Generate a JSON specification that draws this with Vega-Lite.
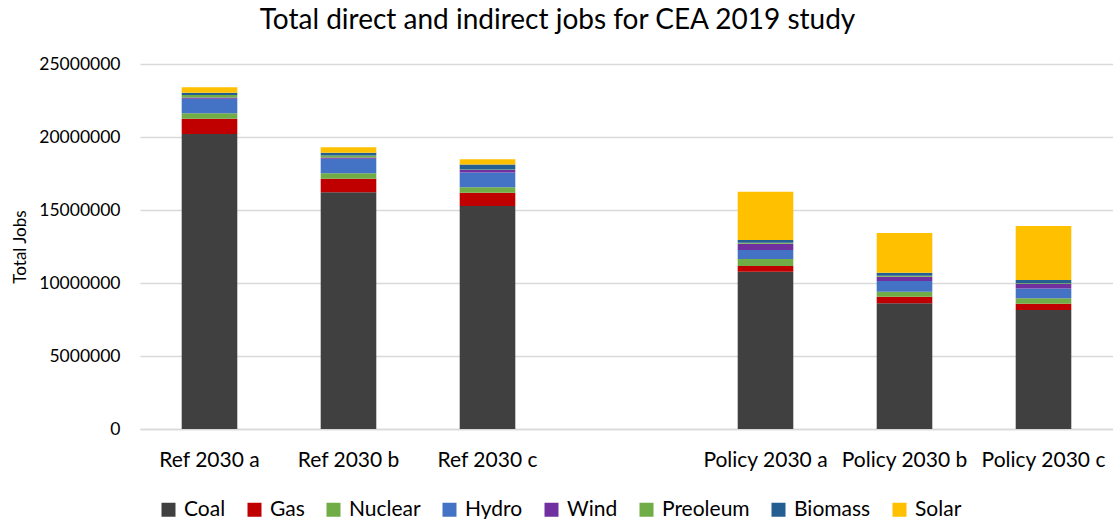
{
  "$schema": "https://vega.github.io/schema/vega-lite/v6.json",
  "width": 973,
  "height": 365,
  "autosize": {"type": "none"},
  "padding": {"left": 140, "top": 64, "right": 0, "bottom": 90},
  "background": "white",
  "title": {
    "text": "Total direct and indirect jobs for CEA 2019 study",
    "font": "Lato",
    "fontSize": 28,
    "fontWeight": "normal",
    "color": "#000000",
    "anchor": "middle",
    "dx": -69,
    "offset": 20
  },
  "config": {
    "view": {"stroke": null},
    "font": "Lato"
  },
  "data": {
    "values": [
      {"scenario": "Ref 2030 a", "source": "Coal", "jobs": 20200000},
      {"scenario": "Ref 2030 a", "source": "Gas", "jobs": 1050000},
      {"scenario": "Ref 2030 a", "source": "Nuclear", "jobs": 370000},
      {"scenario": "Ref 2030 a", "source": "Hydro", "jobs": 1000000},
      {"scenario": "Ref 2030 a", "source": "Wind", "jobs": 90000},
      {"scenario": "Ref 2030 a", "source": "Preoleum", "jobs": 170000},
      {"scenario": "Ref 2030 a", "source": "Biomass", "jobs": 150000},
      {"scenario": "Ref 2030 a", "source": "Solar", "jobs": 370000},
      {"scenario": "Ref 2030 b", "source": "Coal", "jobs": 16210000},
      {"scenario": "Ref 2030 b", "source": "Gas", "jobs": 930000},
      {"scenario": "Ref 2030 b", "source": "Nuclear", "jobs": 370000},
      {"scenario": "Ref 2030 b", "source": "Hydro", "jobs": 1000000},
      {"scenario": "Ref 2030 b", "source": "Wind", "jobs": 90000},
      {"scenario": "Ref 2030 b", "source": "Preoleum", "jobs": 140000},
      {"scenario": "Ref 2030 b", "source": "Biomass", "jobs": 180000},
      {"scenario": "Ref 2030 b", "source": "Solar", "jobs": 370000},
      {"scenario": "Ref 2030 c", "source": "Coal", "jobs": 15270000},
      {"scenario": "Ref 2030 c", "source": "Gas", "jobs": 910000},
      {"scenario": "Ref 2030 c", "source": "Nuclear", "jobs": 370000},
      {"scenario": "Ref 2030 c", "source": "Hydro", "jobs": 1010000},
      {"scenario": "Ref 2030 c", "source": "Wind", "jobs": 180000},
      {"scenario": "Ref 2030 c", "source": "Preoleum", "jobs": 30000},
      {"scenario": "Ref 2030 c", "source": "Biomass", "jobs": 340000},
      {"scenario": "Ref 2030 c", "source": "Solar", "jobs": 360000},
      {"scenario": "Policy 2030 a", "source": "Coal", "jobs": 10770000},
      {"scenario": "Policy 2030 a", "source": "Gas", "jobs": 390000},
      {"scenario": "Policy 2030 a", "source": "Nuclear", "jobs": 480000},
      {"scenario": "Policy 2030 a", "source": "Hydro", "jobs": 620000},
      {"scenario": "Policy 2030 a", "source": "Wind", "jobs": 430000},
      {"scenario": "Policy 2030 a", "source": "Preoleum", "jobs": 60000},
      {"scenario": "Policy 2030 a", "source": "Biomass", "jobs": 200000},
      {"scenario": "Policy 2030 a", "source": "Solar", "jobs": 3300000},
      {"scenario": "Policy 2030 b", "source": "Coal", "jobs": 8610000},
      {"scenario": "Policy 2030 b", "source": "Gas", "jobs": 450000},
      {"scenario": "Policy 2030 b", "source": "Nuclear", "jobs": 340000},
      {"scenario": "Policy 2030 b", "source": "Hydro", "jobs": 740000},
      {"scenario": "Policy 2030 b", "source": "Wind", "jobs": 290000},
      {"scenario": "Policy 2030 b", "source": "Preoleum", "jobs": 60000},
      {"scenario": "Policy 2030 b", "source": "Biomass", "jobs": 220000},
      {"scenario": "Policy 2030 b", "source": "Solar", "jobs": 2710000},
      {"scenario": "Policy 2030 c", "source": "Coal", "jobs": 8150000},
      {"scenario": "Policy 2030 c", "source": "Gas", "jobs": 430000},
      {"scenario": "Policy 2030 c", "source": "Nuclear", "jobs": 370000},
      {"scenario": "Policy 2030 c", "source": "Hydro", "jobs": 680000},
      {"scenario": "Policy 2030 c", "source": "Wind", "jobs": 300000},
      {"scenario": "Policy 2030 c", "source": "Preoleum", "jobs": 60000},
      {"scenario": "Policy 2030 c", "source": "Biomass", "jobs": 220000},
      {"scenario": "Policy 2030 c", "source": "Solar", "jobs": 3690000}
    ]
  },
  "transform": [
    {"calculate": "indexof(['Coal','Gas','Nuclear','Hydro','Wind','Preoleum','Biomass','Solar'], datum.source)", "as": "stackRank"}
  ],
  "mark": {"type": "bar"},
  "encoding": {
    "x": {
      "field": "scenario",
      "type": "nominal",
      "scale": {
        "domain": ["Ref 2030 a", "Ref 2030 b", "Ref 2030 c", " ", "Policy 2030 a", "Policy 2030 b", "Policy 2030 c"],
        "paddingInner": 0.6,
        "paddingOuter": 0.3
      },
      "axis": {
        "title": null,
        "labelAngle": 0,
        "labelFont": "Lato",
        "labelFontSize": 21,
        "labelColor": "#000000",
        "labelPadding": 20,
        "ticks": false,
        "domainColor": "#D9D9D9",
        "domainWidth": 1.5,
        "grid": false
      }
    },
    "y": {
      "field": "jobs",
      "type": "quantitative",
      "aggregate": "sum",
      "stack": "zero",
      "scale": {"domain": [0, 25000000], "nice": false},
      "axis": {
        "title": "Total Jobs",
        "titleFont": "Lato",
        "titleFontSize": 17,
        "titleFontWeight": "normal",
        "titleColor": "#000000",
        "titlePadding": 9,
        "values": [0, 5000000, 10000000, 15000000, 20000000, 25000000],
        "format": "d",
        "labelFont": "Lato",
        "labelFontSize": 17.5,
        "labelColor": "#000000",
        "labelPadding": 20,
        "ticks": false,
        "domain": false,
        "grid": true,
        "gridColor": "#D9D9D9",
        "gridWidth": 1.5
      }
    },
    "color": {
      "field": "source",
      "type": "nominal",
      "scale": {
        "domain": ["Coal", "Gas", "Nuclear", "Hydro", "Wind", "Preoleum", "Biomass", "Solar"],
        "range": ["#404040", "#C00000", "#70AD47", "#4472C4", "#7030A0", "#70AD47", "#255E91", "#FFC000"]
      },
      "legend": {
        "title": null,
        "orient": "none",
        "direction": "horizontal",
        "legendX": 18,
        "legendY": 435,
        "symbolType": "square",
        "symbolSize": 196,
        "symbolStrokeWidth": 0,
        "labelFont": "Lato",
        "labelFontSize": 21,
        "labelColor": "#000000",
        "labelOffset": 5,
        "columnPadding": 18
      }
    },
    "order": {"field": "stackRank", "type": "quantitative", "sort": "ascending"}
  }
}
